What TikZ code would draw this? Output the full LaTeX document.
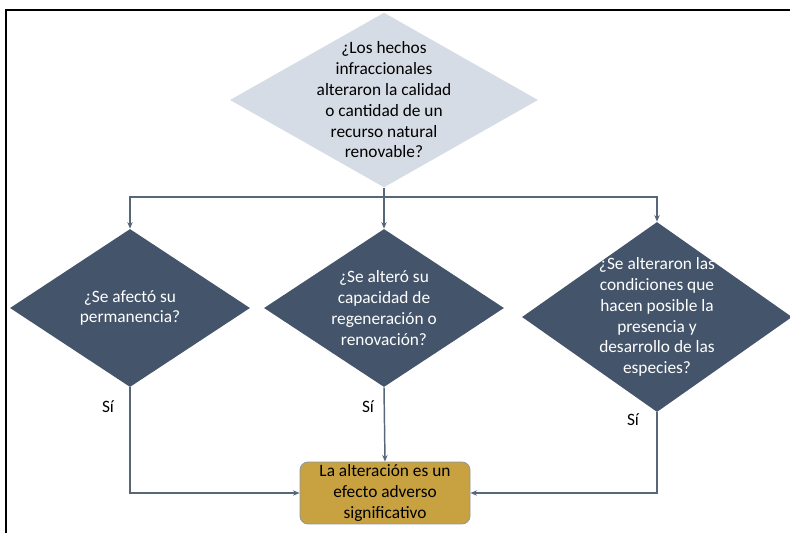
\documentclass[tikz,border=0pt]{standalone}
\usepackage{fontspec}
\setmainfont{Carlito}
\usetikzlibrary{positioning, arrows.meta, shapes.geometric}

\definecolor{paleblue}{RGB}{214,220,229}
\definecolor{slate}{RGB}{68,84,106}
\definecolor{linegray}{RGB}{88,102,122}
\definecolor{gold}{RGB}{200,162,64}

\begin{document}
\begin{tikzpicture}[
    x=0.75pt, y=-0.75pt,
    every node/.style={font=\fontsize{13}{15.6}\selectfont, align=center},
    question/.style={diamond, fill=paleblue, inner sep=0pt},
    darkq/.style={diamond, fill=slate, inner sep=0pt},
    qtext/.style={text=white},
    outcome/.style={rectangle, rounded corners=6pt, fill=gold, draw=linegray!70, line width=0.6pt,
        minimum width=127.5pt, minimum height=45pt, inner sep=2pt},
    arrow/.style={draw=linegray, line width=1.1pt, -{Stealth[length=5pt, width=4pt]}},
    line/.style={draw=linegray, line width=1.1pt},
    frame/.style={draw=black, line width=1.5pt}
]
\useasboundingbox (0,0) rectangle (790,533);
\draw [frame] (6,533) -- (6,10) -- (790,10);

\node (top) [question, minimum width=231pt, minimum height=131pt,
    label={[name=toptext]center:{¿Los hechos\\ infraccionales\\ alteraron la calidad\\ o cantidad de un\\ recurso natural\\ renovable?}}] at (384,100) {};

\node (permanencia) [darkq, minimum width=180pt, minimum height=118.5pt,
    label={[name=permtext, qtext]center:{¿Se afectó su\\ permanencia?}}] at (130,308) {};
\node (regeneracion) [darkq, minimum width=180pt, minimum height=118.5pt,
    label={[name=regtext, qtext]center:{¿Se alteró su\\ capacidad de\\ regeneración o\\ renovación?}}] at (384,308) {};
\node (especies) [darkq, minimum width=202.5pt, minimum height=142.5pt,
    label={[name=esptext, qtext]center:{¿Se alteraron las\\ condiciones que\\ hacen posible la\\ presencia y\\ desarrollo de las\\ especies?}}] at (657,317) {};

\node (efecto) [outcome] at (385,493) {La alteración es un\\ efecto adverso\\ significativo};

\node (si1) at (108,407) {Sí};
\node (si2) at (368,407) {Sí};
\node (si3) at (633,420) {Sí};

\coordinate (bus) at (384,197);
\draw [line] (top.south) -- (bus);
\draw [arrow] (bus) -| (permanencia.north);
\draw [arrow] (bus) -- (regeneracion.north);
\draw [arrow] (bus) -| (especies.north);

\draw [arrow] (permanencia.south) |- (efecto.west);
\draw [arrow] (regeneracion.south) -- (efecto.north);
\draw [arrow] (especies.south) |- (efecto.east);
\end{tikzpicture}
\end{document}
